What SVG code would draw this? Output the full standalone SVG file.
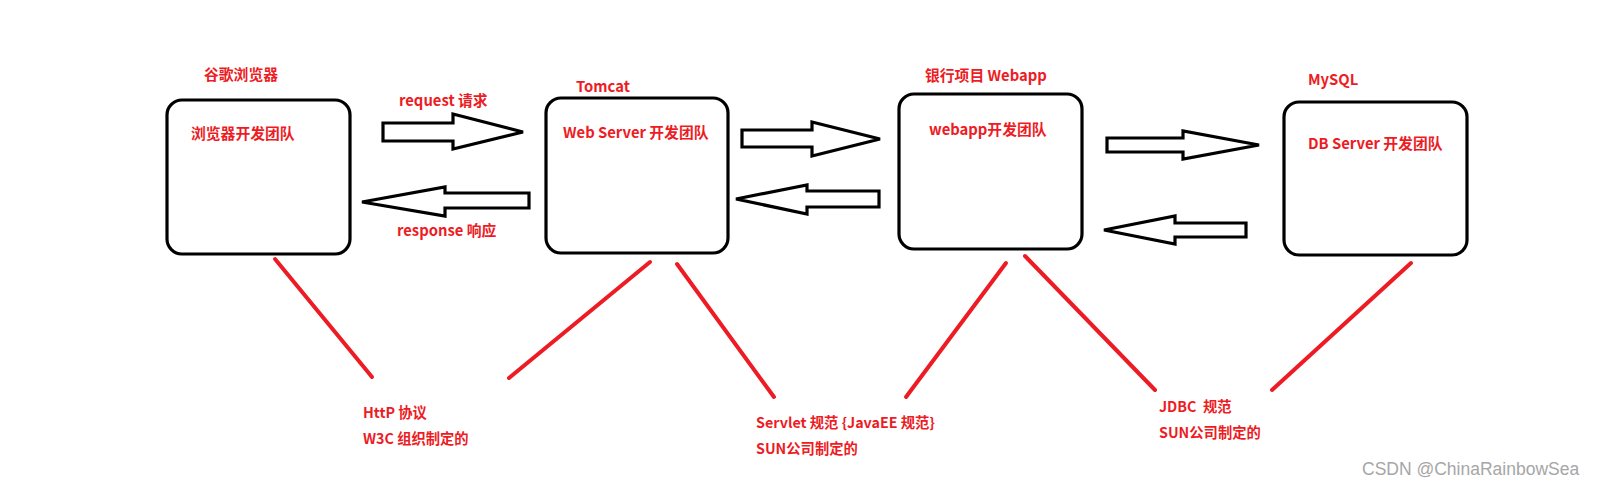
<svg xmlns="http://www.w3.org/2000/svg" width="1605" height="490" viewBox="0 0 1605 490">
<style>
.box{fill:#fff;stroke:#000;stroke-width:3.2}
.arr{fill:#fff;stroke:#000;stroke-width:3.2;stroke-linejoin:miter}
.red{stroke:#ed1c24;stroke-width:4;stroke-linecap:round}
.t{font-family:"Microsoft YaHei","Noto Sans CJK SC","Noto Sans",sans-serif;font-weight:bold;fill:#ed1c24;font-size:14.8px}
.s{font-size:14.3px}
.wm{font-family:"Liberation Sans",Arial,sans-serif;fill:#a6a6a6;font-size:17.5px}
</style>
<rect width="1605" height="490" fill="#fff"/>
<g id="browser">
<rect class="box" x="167" y="100" width="183" height="154" rx="15"/>
<text class="t" x="204" y="80">谷歌浏览器</text>
<text class="t" x="191" y="139">浏览器开发团队</text>
</g>
<g id="tomcat">
<rect class="box" x="546" y="98" width="182" height="155" rx="15"/>
<text class="t" x="576" y="92">Tomcat</text>
<text class="t" x="563" y="138">Web Server 开发团队</text>
</g>
<g id="webapp">
<rect class="box" x="899" y="94" width="183" height="155" rx="15"/>
<text class="t" x="925" y="81">银行项目 Webapp</text>
<text class="t" x="929" y="135">webapp开发团队</text>
</g>
<g id="mysql">
<rect class="box" x="1284" y="102" width="183" height="153" rx="15"/>
<text class="t" x="1308" y="85">MySQL</text>
<text class="t" x="1308" y="149">DB Server 开发团队</text>
</g>
<g id="connectors">
<polygon class="arr" points="383,123 453,123 453,114 523,132 453,149 453,141 383,141"/>
<polygon class="arr" points="529,193 445,193 445,187 362,202 445,216 445,208 529,208"/>
<polygon class="arr" points="742,130 812,130 812,122 880,139 812,156 812,147 742,147"/>
<polygon class="arr" points="879,191 807,191 807,185 736,199 807,214 807,207 879,207"/>
<polygon class="arr" points="1107,138 1183,138 1183,131 1259,145 1183,159 1183,152 1107,152"/>
<polygon class="arr" points="1246,223 1175,223 1175,216 1104,230 1175,244 1175,237 1246,237"/>
<line class="red" x1="275" y1="259" x2="372" y2="377"/>
<line class="red" x1="650" y1="262" x2="509" y2="378"/>
<line class="red" x1="677" y1="264" x2="774" y2="397"/>
<line class="red" x1="1006" y1="263" x2="906" y2="397"/>
<line class="red" x1="1025" y1="256" x2="1155" y2="390"/>
<line class="red" x1="1411" y1="263" x2="1272" y2="390"/>
<text class="t" x="399" y="106">request 请求</text>
<text class="t" x="397" y="236">response 响应</text>
</g>
<g id="notes">
<text class="t s" x="363" y="418">HttP 协议</text>
<text class="t s" x="363" y="444">W3C 组织制定的</text>
<text class="t s" x="756" y="428">Servlet 规范 {JavaEE 规范}</text>
<text class="t s" x="756" y="454">SUN公司制定的</text>
<text class="t s" x="1159" y="412" xml:space="preserve">JDBC  规范</text>
<text class="t s" x="1159" y="438">SUN公司制定的</text>
</g>
<text class="wm" x="1362" y="475">CSDN @ChinaRainbowSea</text>
</svg>
